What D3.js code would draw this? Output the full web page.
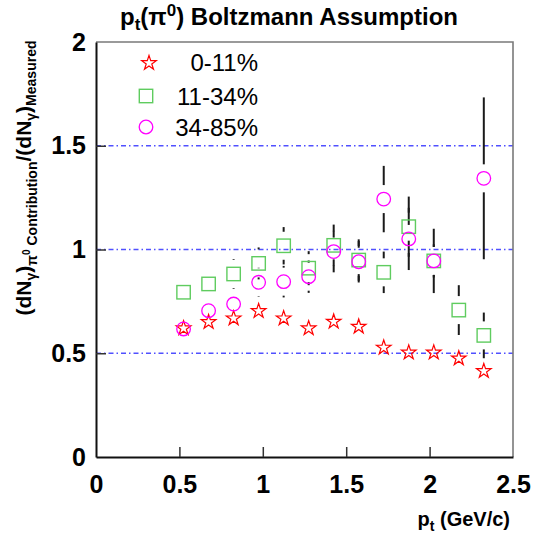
<!DOCTYPE html>
<html>
<head>
<meta charset="utf-8">
<script src="https://cdn.jsdelivr.net/npm/d3@7"></script>
<style>
  html, body { margin: 0; padding: 0; background: #fff; }
  svg { display: block; font-family: "Liberation Sans", Arial, Helvetica, sans-serif; }
</style>
</head>
<body>
<svg id="chart" width="533" height="537"></svg>
<script>
// ---- data ----
const ptValues = [0.525, 0.675, 0.825, 0.975, 1.125, 1.275, 1.425, 1.575, 1.725, 1.875, 2.025, 2.175, 2.325];
const central0to11 = [0.625, 0.655, 0.673, 0.708, 0.673, 0.625, 0.657, 0.633, 0.532, 0.508, 0.508, 0.480, 0.419];
const err0to11 = [0.03, 0.03, 0.03, 0.03, 0.03, 0.03, 0.04, 0.04, 0.04, 0.04, 0.05, 0.05, 0.06];
const central11to34 = [0.794, 0.834, 0.882, 0.933, 1.018, 0.910, 1.020, 0.949, 0.890, 1.110, 0.945, 0.708, 0.586];
const err11to34 = [0.05, 0.05, 0.071, 0.077, 0.09, 0.082, 0.10, 0.10, 0.10, 0.145, 0.08, 0.12, 0.11];
const central34to85 = [0.617, 0.705, 0.737, 0.842, 0.845, 0.869, 0.990, 0.941, 1.243, 1.051, 0.945, null, 1.343];
const err34to85 = [0.05, 0.05, 0.06, 0.07, 0.076, 0.078, 0.10, 0.10, 0.16, 0.15, 0.155, null, 0.39];
const seriesLabels = ["0-11%", "11-34%", "34-85%"];
const xTickValues = [0, 0.5, 1, 1.5, 2, 2.5];
const yTickValues = [0, 0.5, 1, 1.5, 2];
const gridValues = [0.5, 1, 1.5];

// ---- layout ----
const svg = d3.select("#chart");
const L = 96, R = 513, T = 42, B = 457;
const x = d3.scaleLinear().domain([0, 2.5]).range([L, R]);
const y = d3.scaleLinear().domain([0, 2]).range([B, T]);

const series = [
  { name: seriesLabels[0], type: "star", color: "#ff0000", vals: central0to11, errs: err0to11 },
  { name: seriesLabels[1], type: "square", color: "#5fcc5f", vals: central11to34, errs: err11to34 },
  { name: seriesLabels[2], type: "circle", color: "#ff00ff", vals: central34to85, errs: err34to85 }
];

// gridlines
svg.append("g").selectAll("line").data(gridValues).join("line")
  .attr("x1", L).attr("x2", R)
  .attr("y1", d => y(d)).attr("y2", d => y(d))
  .attr("stroke", "#5050ff").attr("stroke-width", 1.3)
  .attr("stroke-dasharray", "5,3,1.5,3");

// frame top/right
svg.append("path")
  .attr("d", `M${L},${T}H${R}V${B}`)
  .attr("fill", "none").attr("stroke", "#7a7a7a").attr("stroke-width", 1.6);

// axes
const xAxis = d3.axisBottom(x).tickValues(xTickValues).tickSize(-10).tickSizeOuter(0).tickPadding(18)
  .tickFormat(d3.format("~g"));
const gx = svg.append("g").attr("transform", `translate(0,${B})`).call(xAxis);
const yAxis = d3.axisLeft(y).tickValues(yTickValues).tickSize(-10).tickSizeOuter(0).tickPadding(10)
  .tickFormat(d3.format("~g"));
const gy = svg.append("g").attr("transform", `translate(${L},0)`).call(yAxis);
[gx, gy].forEach(g => {
  g.select(".domain").attr("stroke", "#111").attr("stroke-width", 2);
  g.selectAll(".tick line").attr("stroke", "#333").attr("stroke-width", 1.5);
  g.selectAll(".tick text").attr("fill", "#000").attr("font-size", 25).attr("font-weight", "bold")
    .attr("font-family", "'Liberation Sans', Arial, sans-serif");
});
gy.selectAll(".tick line").filter(d => d === 0 || d === 2).remove();
gx.selectAll(".tick line").filter(d => d === 0 || d === 2.5).remove();

// error bars (with gap around marker)
const gap = 14;
const eg = svg.append("g");
series.forEach(s => {
  ptValues.forEach((px, i) => {
    const v = s.vals[i], e = s.errs[i];
    if (v == null) return;
    const cx = x(px), cy = y(v);
    const top = y(v + e), bot = y(v - e);
    if (cy - top > gap) {
      eg.append("line").attr("x1", cx).attr("x2", cx).attr("y1", top).attr("y2", cy - gap)
        .attr("stroke", "#1a1a1a").attr("stroke-width", 2);
    }
    if (bot - cy > gap) {
      eg.append("line").attr("x1", cx).attr("x2", cx).attr("y1", cy + gap).attr("y2", bot)
        .attr("stroke", "#1a1a1a").attr("stroke-width", 2);
    }
  });
});

// marker drawer
function drawMarker(g, type, color, cx, cy) {
  if (type === "star") {
    g.append("path").attr("d", d3.symbol().type(d3.symbolStar).size(66)())
      .attr("transform", `translate(${cx},${cy + 1})`)
      .attr("fill", "none").attr("stroke", color).attr("stroke-width", 1.2);
  } else if (type === "square") {
    g.append("rect").attr("x", cx - 6.7).attr("y", cy - 6.7).attr("width", 13.4).attr("height", 13.4)
      .attr("fill", "none").attr("stroke", color).attr("stroke-width", 1.4);
  } else {
    g.append("circle").attr("cx", cx).attr("cy", cy).attr("r", 6.8)
      .attr("fill", "none").attr("stroke", color).attr("stroke-width", 1.3);
  }
}

const mg = svg.append("g");
series.forEach(s => {
  ptValues.forEach((px, i) => {
    const v = s.vals[i];
    if (v == null) return;
    drawMarker(mg, s.type, s.color, x(px), y(v));
  });
});

// legend
const legY = [62, 96, 127];
const legX = [149, 146, 146];
series.forEach((s, i) => {
  drawMarker(svg, s.type, s.color, legX[i], legY[i]);
  svg.append("text").attr("x", 258).attr("y", legY[i]).attr("dy", "0.36em")
    .attr("text-anchor", "end").attr("font-size", 24).attr("fill", "#000")
    .text(s.name);
});

// title
const title = svg.append("text").attr("x", 289).attr("y", 25).attr("text-anchor", "middle")
  .attr("font-size", 24).attr("font-weight", "bold").attr("fill", "#000");
title.append("tspan").text("p");
title.append("tspan").attr("font-size", 17).attr("dy", 5).text("t");
title.append("tspan").attr("dy", -5).text("(π");
title.append("tspan").attr("font-size", 17).attr("dy", -9).text("0");
title.append("tspan").attr("dy", 9).text(") Boltzmann Assumption");

// x-axis title
const xt = svg.append("text").attr("x", 510).attr("y", 526).attr("text-anchor", "end")
  .attr("font-size", 20).attr("font-weight", "bold").attr("fill", "#000");
xt.append("tspan").text("p");
xt.append("tspan").attr("font-size", 14).attr("dy", 5).text("t");
xt.append("tspan").attr("dy", -5).text(" (GeV/c)");

// y-axis title
const yt = svg.append("text").attr("transform", "translate(31,178) rotate(-90)")
  .attr("text-anchor", "middle").attr("font-size", 21).attr("font-weight", "bold").attr("fill", "#000");
yt.append("tspan").text("(dN");
yt.append("tspan").attr("font-size", 14).attr("dy", 5).text("γ");
yt.append("tspan").attr("dy", -5).text(")");
yt.append("tspan").attr("font-size", 14).attr("dy", 6).text("π");
yt.append("tspan").attr("font-size", 10).attr("dy", -7).text("0");
yt.append("tspan").attr("font-size", 14).attr("dy", 7).text(" Contribution");
yt.append("tspan").attr("dy", -6).text("/(dN");
yt.append("tspan").attr("font-size", 14).attr("dy", 5).text("γ");
yt.append("tspan").attr("dy", -5).text(")");
yt.append("tspan").attr("font-size", 14).attr("dy", 5).text("Measured");
</script>
</body>
</html>
